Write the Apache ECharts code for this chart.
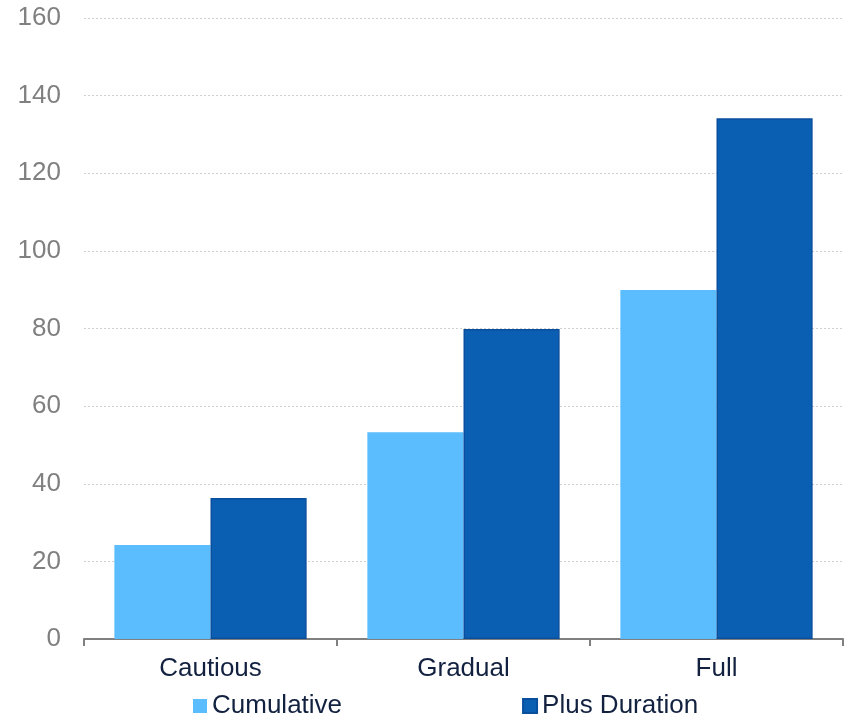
<!DOCTYPE html>
<html>
<head>
<meta charset="utf-8">
<script src="https://cdn.jsdelivr.net/npm/echarts@6/dist/echarts.min.js"></script>
<style>
  html, body { margin: 0; padding: 0; background: #ffffff; }
  #chart { width: 852px; height: 718px; }
</style>
</head>
<body>
<div id="chart"></div>
<script>
// Scenario categories and the two bar series
const categories = ['Cautious', 'Gradual', 'Full'];
const cumulative = [24.2, 53.3, 89.9];
const plusDuration = [36.3, 79.9, 134.2];
const yTicks = { min: 0, max: 160, interval: 20 };

const chart = echarts.init(document.getElementById('chart'));
const font = 'Liberation Sans, Arial, sans-serif';

chart.setOption({
  animation: false,
  grid: { left: 84, right: 9, top: 18, bottom: 79, containLabel: false },
  legend: {
    top: 688,
    left: 188,
    itemWidth: 14,
    itemHeight: 14,
    itemGap: 180,
    icon: 'rect',
    textStyle: { fontFamily: font, fontSize: 26, color: '#12213f' },
    data: ['Cumulative', 'Plus Duration']
  },
  xAxis: {
    type: 'category',
    data: categories,
    axisLine: { lineStyle: { color: '#808080', width: 2 } },
    axisTick: { show: true, length: 7, lineStyle: { color: '#808080', width: 2 } },
    axisLabel: { fontFamily: font, fontSize: 26, color: '#12213f', margin: 17 }
  },
  yAxis: {
    type: 'value',
    min: yTicks.min,
    max: yTicks.max,
    interval: yTicks.interval,
    axisLine: { show: false },
    axisTick: { show: false },
    axisLabel: { fontFamily: font, fontSize: 26, color: '#808080', margin: 23 },
    splitLine: { lineStyle: { color: '#cfcfcf', type: [2, 2], width: 1 } }
  },
  series: [
    {
      name: 'Cumulative',
      type: 'bar',
      data: cumulative,
      barGap: '0%',
      barCategoryGap: '24%',
      itemStyle: { color: '#5bbdfe' }
    },
    {
      name: 'Plus Duration',
      type: 'bar',
      data: plusDuration,
      itemStyle: { color: '#0b5fb3', borderColor: '#0a4f9e', borderWidth: 1.5 }
    }
  ]
});
</script>
</body>
</html>
